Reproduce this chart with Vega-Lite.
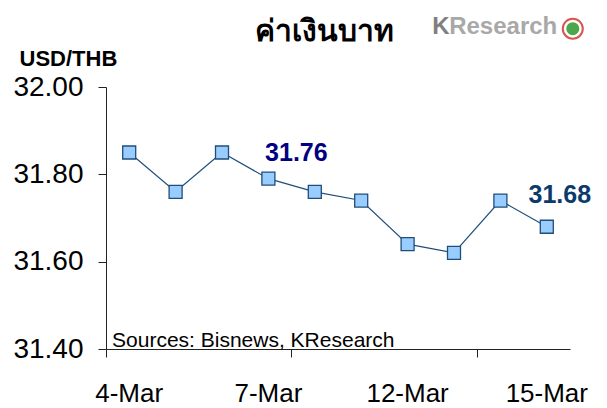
{
  "$schema": "https://vega.github.io/schema/vega-lite/v6.json",
  "width": 464,
  "height": 262,
  "autosize": "none",
  "padding": {"left": 106, "top": 87, "right": 37, "bottom": 59},
  "background": "white",
  "config": {"font": "Liberation Sans", "view": {"stroke": null}},
  "layer": [
    {
      "data": {"values": [
        {"d": "4-Mar", "v": 31.85},
        {"d": "5-Mar", "v": 31.76},
        {"d": "6-Mar", "v": 31.85},
        {"d": "7-Mar", "v": 31.79},
        {"d": "8-Mar", "v": 31.76},
        {"d": "11-Mar", "v": 31.74},
        {"d": "12-Mar", "v": 31.64},
        {"d": "13-Mar", "v": 31.62},
        {"d": "14-Mar", "v": 31.74},
        {"d": "15-Mar", "v": 31.68}
      ]},
      "encoding": {
        "x": {
          "field": "d", "type": "ordinal",
          "scale": {"type": "band", "paddingInner": 0, "paddingOuter": 0,
            "domain": ["4-Mar","5-Mar","6-Mar","7-Mar","8-Mar","11-Mar","12-Mar","13-Mar","14-Mar","15-Mar"]},
          "axis": {
            "title": null,
            "labelAngle": 0,
            "bandPosition": 0,
            "labelExpr": "indexof(['4-Mar','7-Mar','12-Mar','15-Mar'], datum.value) >= 0 ? datum.value : ''",
            "labelFontSize": 26,
            "labelColor": "black",
            "labelPadding": 23,
            "labelOverlap": false,
            "tickSize": 8,
            "tickColor": "#222",
            "tickOpacity": {"condition": {"test": "indexof(['4-Mar','8-Mar','14-Mar'], datum.value) >= 0", "value": 1}, "value": 0},
            "domainColor": "#222",
            "grid": false
          }
        },
        "y": {
          "field": "v", "type": "quantitative",
          "scale": {"domain": [31.4, 32.0], "zero": false, "nice": false},
          "axis": {
            "values": [31.4, 31.6, 31.8, 32.0],
            "format": ".2f",
            "labelFontSize": 28,
            "labelColor": "black",
            "labelPadding": 15,
            "tickSize": 8,
            "tickColor": "#222",
            "domainColor": "#222",
            "grid": false,
            "title": "USD/THB",
            "titleAngle": 0,
            "titleAlign": "left",
            "titleBaseline": "alphabetic",
            "titleX": -87,
            "titleY": -22,
            "titleFontSize": 22,
            "titleFontWeight": "bold",
            "titleColor": "black"
          }
        }
      },
      "layer": [
        {"mark": {"type": "line", "color": "#1F4E79", "strokeWidth": 1.2}},
        {"mark": {"type": "point", "shape": "square", "filled": true, "size": 169, "fill": "#99CCFF", "stroke": "#1F4E79", "strokeWidth": 1.3, "opacity": 1}}
      ]
    },
    {
      "data": {"values": [{"d": "8-Mar", "v": 32.106, "t": "ค่าเงินบาท"}]},
      "mark": {"type": "text", "fontSize": 30, "fontWeight": "bold", "color": "black", "baseline": "alphabetic", "align": "center"},
      "encoding": {
        "x": {"field": "d", "type": "ordinal", "bandPosition": 0.705},
        "y": {"field": "v", "type": "quantitative"},
        "text": {"field": "t"}
      }
    },
    {
      "data": {"values": [{"d": "7-Mar", "v": 31.83, "t": "31.76"}]},
      "mark": {"type": "text", "fontSize": 25, "fontWeight": "bold", "color": "#000080", "baseline": "alphabetic", "align": "center", "dx": 28},
      "encoding": {
        "x": {"field": "d", "type": "ordinal"},
        "y": {"field": "v", "type": "quantitative"},
        "text": {"field": "t"}
      }
    },
    {
      "data": {"values": [{"d": "15-Mar", "v": 31.7345, "t": "31.68"}]},
      "mark": {"type": "text", "fontSize": 25, "fontWeight": "bold", "color": "#0B3A6B", "baseline": "alphabetic", "align": "center", "dx": 13},
      "encoding": {
        "x": {"field": "d", "type": "ordinal"},
        "y": {"field": "v", "type": "quantitative"},
        "text": {"field": "t"}
      }
    },
    {
      "data": {"values": [{"d": "4-Mar", "v": 31.404, "t": "Sources: Bisnews, KResearch"}]},
      "mark": {"type": "text", "fontSize": 21, "color": "black", "baseline": "alphabetic", "align": "left"},
      "encoding": {
        "x": {"field": "d", "type": "ordinal", "bandPosition": 0.13},
        "y": {"field": "v", "type": "quantitative"},
        "text": {"field": "t"}
      }
    },
    {
      "data": {"values": [{"d": "13-Mar", "v": 32.121, "t": "K"}]},
      "mark": {"type": "text", "fontSize": 24, "fontWeight": "bold", "color": "#6a6a6a", "baseline": "alphabetic", "align": "left", "opacity": 0.85},
      "encoding": {
        "x": {"field": "d", "type": "ordinal", "bandPosition": 0.03},
        "y": {"field": "v", "type": "quantitative"},
        "text": {"field": "t"}
      }
    },
    {
      "data": {"values": [{"d": "13-Mar", "v": 32.121, "t": "Research"}]},
      "mark": {"type": "text", "fontSize": 24, "fontWeight": "bold", "color": "#9a9a9a", "baseline": "alphabetic", "align": "left", "dx": 17, "opacity": 0.85},
      "encoding": {
        "x": {"field": "d", "type": "ordinal", "bandPosition": 0.03},
        "y": {"field": "v", "type": "quantitative"},
        "text": {"field": "t"}
      }
    },
    {
      "data": {"values": [{"d": "15-Mar", "v": 32.1336}]},
      "mark": {"type": "point", "shape": "circle", "size": 400, "filled": true, "fill": "white", "stroke": "#D9534F", "strokeWidth": 2, "opacity": 1},
      "encoding": {
        "x": {"field": "d", "type": "ordinal", "bandPosition": 1.06},
        "y": {"field": "v", "type": "quantitative"}
      }
    },
    {
      "data": {"values": [{"d": "15-Mar", "v": 32.1336}]},
      "mark": {"type": "point", "shape": "circle", "size": 170, "filled": true, "fill": "#4CA64C", "opacity": 1},
      "encoding": {
        "x": {"field": "d", "type": "ordinal", "bandPosition": 1.06},
        "y": {"field": "v", "type": "quantitative"}
      }
    }
  ]
}
